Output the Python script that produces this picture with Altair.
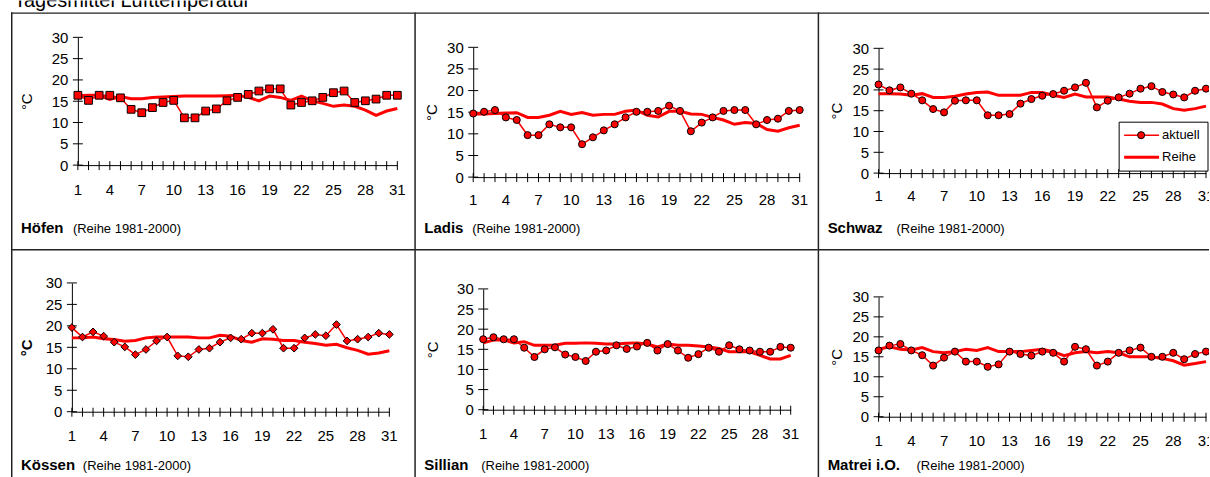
import altair as alt
import pandas as pd

# ---- data -------------------------------------------------------------
days = list(range(1, 32))
x_label_days = list(range(1, 32, 3))
y_tick_values = [0, 5, 10, 15, 20, 25, 30]

chart_title = "Tagesmittel Lufttemperatur"
period_note = "(Reihe 1981-2000)"
series_names = ["aktuell", "Reihe"]

stations = ["Höfen", "Ladis", "Schwaz", "Kössen", "Sillian", "Matrei i.O."]

hoefen_aktuell = [16.4, 15.2, 16.4, 16.4, 15.8, 13.1, 12.3, 13.5, 14.7, 15.2, 11.1,
                  11.1, 12.7, 13.2, 15.1, 15.9, 16.6, 17.4, 17.9, 17.9, 14.1, 14.7,
                  15.1, 15.9, 17.0, 17.4, 14.7, 15.1, 15.5, 16.4, 16.4]
hoefen_reihe = [16.3, 16.4, 16.4, 15.4, 16.1, 15.6, 15.6, 15.9, 16.0, 16.1, 16.2,
                16.2, 16.2, 16.2, 16.3, 16.4, 15.9, 15.1, 16.2, 15.9, 15.2, 16.2,
                15.1, 14.5, 13.8, 14.1, 13.8, 12.9, 11.7, 12.7, 13.3]

ladis_aktuell = [14.7, 15.1, 15.5, 13.8, 13.2, 9.7, 9.7, 12.2, 11.5, 11.5, 7.6,
                 9.2, 10.8, 12.2, 13.8, 15.1, 15.1, 15.3, 16.5, 15.3, 10.6, 12.6,
                 13.8, 15.3, 15.5, 15.5, 12.2, 13.2, 13.5, 15.3, 15.5]
ladis_reihe = [14.6, 14.6, 14.7, 14.8, 14.9, 13.8, 13.8, 14.3, 15.2, 14.5, 14.9,
               14.3, 14.5, 14.5, 15.2, 15.5, 14.3, 13.9, 15.2, 15.2, 14.6, 14.5,
               13.8, 13.2, 12.2, 12.6, 12.4, 11.0, 10.6, 11.4, 12.0]

schwaz_aktuell = [21.3, 19.9, 20.6, 19.1, 17.5, 15.4, 14.6, 17.4, 17.5, 17.5, 13.9,
                  13.9, 14.2, 16.7, 17.8, 18.6, 19.0, 19.8, 20.6, 21.7, 15.8, 17.4,
                  18.2, 19.1, 20.3, 20.9, 19.5, 18.9, 18.2, 19.8, 20.3]
schwaz_reihe = [19.1, 19.1, 19.0, 18.7, 19.1, 18.2, 18.2, 18.5, 19.0, 19.4, 19.5,
                18.7, 18.7, 18.7, 19.4, 19.4, 18.7, 18.2, 19.0, 18.3, 18.3, 18.3,
                17.8, 17.3, 17.0, 17.0, 16.6, 15.5, 15.1, 15.5, 16.1]

koessen_aktuell = [19.6, 17.4, 18.6, 17.6, 16.2, 15.1, 13.3, 14.5, 16.5, 17.4, 13.0,
                   12.8, 14.5, 14.8, 16.2, 17.2, 16.9, 18.3, 18.3, 19.2, 14.8, 14.8,
                   17.2, 18.0, 17.7, 20.3, 16.5, 16.9, 17.4, 18.3, 18.0]
koessen_reihe = [17.2, 17.2, 17.4, 17.0, 16.8, 16.4, 16.6, 17.2, 17.4, 17.4, 17.4,
                 17.4, 17.2, 17.2, 17.8, 17.6, 16.6, 16.2, 17.0, 16.9, 16.6, 16.6,
                 16.2, 15.9, 15.5, 15.7, 14.9, 14.3, 13.4, 13.7, 14.2]

sillian_aktuell = [17.5, 18.0, 17.5, 17.5, 15.4, 13.1, 15.0, 15.5, 13.7, 13.1, 12.1,
                   14.4, 14.7, 16.0, 15.1, 15.7, 16.6, 14.7, 16.3, 14.7, 12.9, 13.8,
                   15.4, 14.4, 16.0, 15.0, 14.7, 14.4, 14.4, 15.6, 15.4]
sillian_reihe = [16.6, 17.3, 17.3, 16.6, 16.9, 16.0, 16.0, 16.0, 16.5, 16.5, 16.6,
                 16.5, 16.3, 16.3, 16.5, 16.6, 16.3, 15.6, 16.3, 16.0, 16.0, 15.8,
                 15.6, 15.2, 14.4, 14.4, 14.4, 13.5, 12.6, 12.6, 13.5]

matrei_aktuell = [16.6, 17.8, 18.2, 16.6, 15.4, 12.8, 14.8, 16.3, 13.8, 13.8, 12.5,
                  13.1, 16.3, 15.7, 15.3, 16.3, 16.0, 13.8, 17.5, 16.9, 12.8, 13.8,
                  16.0, 16.6, 17.3, 15.0, 15.0, 16.0, 14.4, 15.7, 16.3]
matrei_reihe = [16.9, 17.5, 16.9, 16.7, 17.3, 16.3, 16.0, 16.3, 16.9, 16.6, 17.3,
                16.3, 16.3, 16.3, 16.6, 16.9, 16.3, 15.3, 16.0, 16.3, 16.0, 16.3,
                16.0, 15.0, 15.0, 15.0, 14.6, 14.0, 12.9, 13.3, 13.8]

series = {
    "Höfen": (hoefen_aktuell, hoefen_reihe),
    "Ladis": (ladis_aktuell, ladis_reihe),
    "Schwaz": (schwaz_aktuell, schwaz_reihe),
    "Kössen": (koessen_aktuell, koessen_reihe),
    "Sillian": (sillian_aktuell, sillian_reihe),
    "Matrei i.O.": (matrei_aktuell, matrei_reihe),
}

# ---- layout / style ---------------------------------------------------
FONT = "Liberation Sans"
RED = "#ff0000"
INK = "#000000"
FRAME = "#222222"
COL_W = [404, 404, 392]
ROW_H = [237, 229]
HEAD_H = 11

# plot rectangle inside each bordered cell, marker shape, label offsets
layout = {
    "Höfen":       dict(x0=67, x1=387, y0=153, y30=25, tpad=17, xpad=18, sub_x=62, shape="square", size=60, bold_unit=False),
    "Ladis":       dict(x0=59, x1=386, y0=165, y30=35, tpad=7, xpad=16, sub_x=58, shape="circle", size=50, bold_unit=False),
    "Schwaz":      dict(x0=61, x1=389, y0=161, y30=36, tpad=7, xpad=16, sub_x=79, shape="circle", size=50, bold_unit=False),
    "Kössen":      dict(x0=61, x1=379, y0=163, y30=34, tpad=11, xpad=17, sub_x=72, shape="diamond", size=60, bold_unit=True),
    "Sillian":     dict(x0=69, x1=377, y0=161, y30=40, tpad=16, xpad=17, sub_x=67, shape="circle", size=50, bold_unit=False),
    "Matrei i.O.": dict(x0=61, x1=389, y0=168, y30=48, tpad=7, xpad=17, sub_x=99, shape="circle", size=50, bold_unit=False),
}


def station_panel(idx, name):
    aktuell, reihe = series[name]
    lay = layout[name]
    cell_w, cell_h = COL_W[idx % 3], ROW_H[idx // 3]
    df = pd.DataFrame({"Tag": days, "aktuell": aktuell, "Reihe": reihe})

    xs = alt.Scale(domain=[1, 31], range=[lay["x0"], lay["x1"]], nice=False, zero=False)
    ys = alt.Scale(domain=[0, 30], range=[lay["y0"], lay["y30"]], nice=False)

    x_axis = alt.Axis(
        values=x_label_days, offset=lay["y0"] - cell_h, ticks=False, tickSize=0,
        labels=False, domainColor=INK, domainWidth=1, grid=False, title=None,
    )
    y_axis = alt.Axis(
        values=y_tick_values, offset=-lay["x0"], ticks=False, tickSize=0,
        labelPadding=10, labelFont=FONT, labelFontSize=15, labelColor=INK,
        domainColor=INK, domainWidth=1, grid=False,
        title="°C", titleFont=FONT, titleFontSize=15, titleColor=INK,
        titleFontWeight="bold" if lay["bold_unit"] else "normal",
        titlePadding=lay["tpad"],
    )

    x_enc = alt.X("Tag:Q", scale=xs, axis=x_axis)
    base = alt.Chart(df)

    aktuell_line = base.mark_line(color=RED, strokeWidth=1.5, clip=True).encode(
        x=x_enc, y=alt.Y("aktuell:Q", scale=ys, axis=y_axis))
    reihe_line = base.mark_line(color=RED, strokeWidth=3, clip=True).encode(
        x=x_enc, y=alt.Y("Reihe:Q", scale=ys, axis=y_axis))
    aktuell_pts = base.mark_point(
        shape=lay["shape"], size=lay["size"], filled=True, fill=RED,
        stroke=INK, strokeWidth=1, opacity=1, clip=True,
    ).encode(x=x_enc, y=alt.Y("aktuell:Q", scale=ys, axis=y_axis))

    # crossing tick marks on both axes, day labels under the x axis
    x_ticks = alt.Chart(pd.DataFrame({"Tag": days})).mark_rule(color=INK, strokeWidth=1).encode(
        x=x_enc, y=alt.value(lay["y0"] - 4), y2=alt.value(lay["y0"] + 5))
    y_ticks = alt.Chart(pd.DataFrame({"v": y_tick_values})).mark_rule(color=INK, strokeWidth=1).encode(
        y=alt.Y("v:Q", scale=ys, axis=y_axis), x=alt.value(lay["x0"] - 5), x2=alt.value(lay["x0"] + 5))
    x_labels = alt.Chart(pd.DataFrame({"Tag": x_label_days})).mark_text(
        font=FONT, fontSize=15, color=INK, align="center", baseline="top", clip=True,
    ).encode(x=x_enc, y=alt.value(lay["y0"] + lay["xpad"]), text=alt.Text("Tag:Q", format="d"))

    # cell frame: left and top edges
    frame = pd.DataFrame({"k": [0]})
    frame_left = alt.Chart(frame).mark_rule(color=FRAME, strokeWidth=1.5).encode(
        x=alt.value(0.75), y=alt.value(0), y2=alt.value(cell_h))
    frame_top = alt.Chart(frame).mark_rule(color=FRAME, strokeWidth=1.5).encode(
        x=alt.value(0), x2=alt.value(cell_w), y=alt.value(0.75))

    caption = pd.DataFrame({"name": [name], "note": [period_note]})
    name_text = alt.Chart(caption).mark_text(
        font=FONT, fontSize=15, fontWeight="bold", color=INK, align="left", baseline="alphabetic",
    ).encode(text="name:N", x=alt.value(10), y=alt.value(221))
    note_text = alt.Chart(caption).mark_text(
        font=FONT, fontSize=13, color=INK, align="left", baseline="alphabetic",
    ).encode(text="note:N", x=alt.value(lay["sub_x"]), y=alt.value(221))

    layers = [frame_left, frame_top, y_ticks, x_ticks, x_labels,
              aktuell_line, reihe_line, aktuell_pts, name_text, note_text]

    if name == "Schwaz":
        one = pd.DataFrame({"k": [0]})
        box = alt.Chart(one).mark_rect(fill="white", stroke=INK, strokeWidth=1).encode(
            x=alt.value(302), x2=alt.value(391), y=alt.value(110), y2=alt.value(159))
        leg = pd.DataFrame({"label": series_names})
        leg_a = alt.Chart(leg.iloc[[0]]).mark_rule(color=RED, strokeWidth=1.5).encode(
            x=alt.value(307), x2=alt.value(342), y=alt.value(123))
        leg_r = alt.Chart(leg.iloc[[1]]).mark_rule(color=RED, strokeWidth=3).encode(
            x=alt.value(307), x2=alt.value(342), y=alt.value(145))
        leg_pt = alt.Chart(leg.iloc[[0]]).mark_point(
            shape="circle", size=50, filled=True, fill=RED, stroke=INK, strokeWidth=1, opacity=1,
        ).encode(x=alt.value(324), y=alt.value(123))
        leg_txt_a = alt.Chart(leg.iloc[[0]]).mark_text(
            font=FONT, fontSize=13, color=INK, align="left", baseline="middle",
        ).encode(text="label:N", x=alt.value(345), y=alt.value(123))
        leg_txt_r = alt.Chart(leg.iloc[[1]]).mark_text(
            font=FONT, fontSize=13, color=INK, align="left", baseline="middle",
        ).encode(text="label:N", x=alt.value(345), y=alt.value(145))
        layers += [box, leg_a, leg_r, leg_pt, leg_txt_a, leg_txt_r]

    return alt.layer(*layers).properties(width=cell_w, height=cell_h)


# heading strip above the grid (its upper part runs off the page)
heading = alt.Chart(pd.DataFrame({"t": [chart_title]})).mark_text(
    font=FONT, fontSize=20, color=INK, align="left", baseline="alphabetic", clip=True,
).encode(text="t:N", x=alt.value(3), y=alt.value(7)).properties(
    width=sum(COL_W), height=HEAD_H)

grid = alt.concat(*[station_panel(i, s) for i, s in enumerate(stations)],
                  columns=3, spacing=0, bounds="flush", align="each")

chart = alt.vconcat(heading, grid, spacing=0).properties(
    padding={"left": 10, "top": 0, "right": 0, "bottom": 0},
    background="white",
).configure_view(strokeWidth=0)

chart.save("out.html", embed_options={"renderer": "svg", "actions": False})
